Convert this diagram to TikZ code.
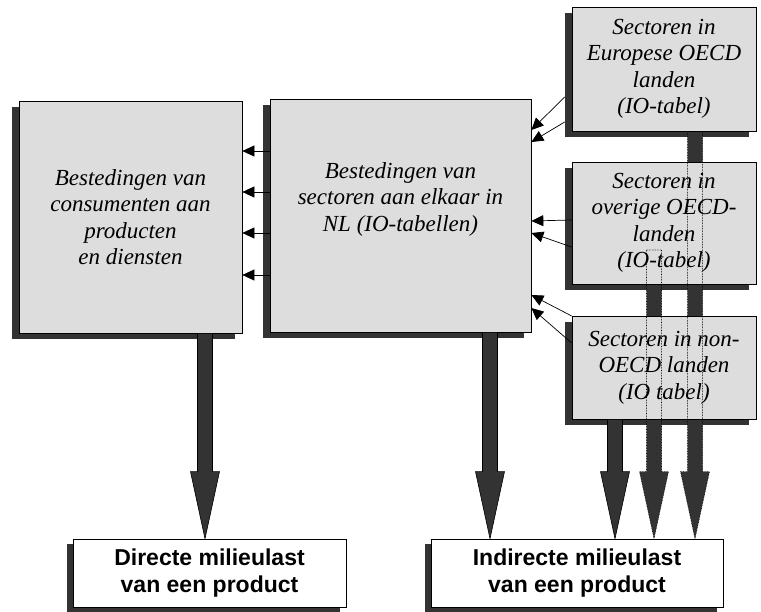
\documentclass[tikz,border=0pt]{standalone}
\usepackage{fontspec}
\setmainfont{Liberation Serif}
\setsansfont{Liberation Sans}
\usetikzlibrary{arrows.meta,shadows,calc}

\definecolor{boxgray}{HTML}{DDDDDD}
\definecolor{arrowgray}{HTML}{333333}

% thick block arrow: \bigarrow[style]{(start)}{(tip)}
\newcommand{\bigarrow}[3][]{%
  \path[#1] let \p1=#2, \p2=#3 in
    (\x1-7.5pt,\y1) -- (\x1-7.5pt,\y2+67pt) -- (\x1-14.5pt,\y2+67pt) -- (\x1,\y2)
    -- (\x1+14.5pt,\y2+67pt) -- (\x1+7.5pt,\y2+67pt) -- (\x1+7.5pt,\y1) -- cycle;}

\begin{document}
\begin{tikzpicture}[
x=1pt, y=-1pt,
box/.style={draw=black, line width=0.7pt, fill=boxgray, inner sep=0pt, align=center,
  font=\itshape\fontsize{23}{26.5}\selectfont,
  drop shadow={shadow xshift=-7pt, shadow yshift=-6pt, fill=arrowgray, opacity=1}},
result/.style={draw=black, line width=0.7pt, fill=white, inner sep=0pt, align=center,
  font=\sffamily\bfseries\fontsize{23}{27}\selectfont,
  drop shadow={shadow xshift=-6pt, shadow yshift=-5pt, fill=arrowgray, opacity=1}},
feed/.style={-{Triangle[length=12pt,width=11pt]}, line width=0.7pt},
bigarr/.style={fill=arrowgray, draw=black, line width=0.6pt},
hidden/.style={draw=black, densely dotted, line width=0.6pt}
]
    \useasboundingbox (0,0) rectangle (761,612);

    % Result boxes
    \node[result, minimum width=273pt, minimum height=68pt] (direct) at (209.5,573)
        {Directe milieulast\\van een product};
    \node[result, minimum width=292pt, minimum height=68pt] (indirect) at (577,573)
        {Indirecte milieulast\\van een product};

    % Expenditure boxes
    \node[box, minimum width=223pt, minimum height=232pt] (cons) at (130.5,217)
        {Bestedingen van\\consumenten aan\\producten\\en diensten};
    \node[box, minimum width=261pt, minimum height=233pt] (sect) at (400.5,215.5) {};
    \node[align=center, inner sep=0pt, font=\itshape\fontsize{23}{26.5}\selectfont]
        (secttext) at ([yshift=16.5pt]sect.center)
        {Bestedingen van\\sectoren aan elkaar in\\NL (IO-tabellen)};

    % Foreign sectors
    \coordinate (ovrtop) at (654,250);
    \bigarrow[fill=arrowgray]{(ovrtop)}{(654,0 |- indirect.north)}
    \bigarrow[fill=arrowgray]{(695,131)}{(695,0 |- indirect.north)}

    \node[box, minimum width=184pt, minimum height=124pt] (eur) at (664,69)
        {Sectoren in\\Europese OECD\\landen\\(IO-tabel)};
    \node[box, minimum width=184pt, minimum height=122pt] (ovr) at (664,223)
        {Sectoren in\\overige OECD-\\landen\\(IO-tabel)};
    \node[box, minimum width=184pt, minimum height=103pt] (non) at (664,367.5)
        {Sectoren in non-\\OECD landen\\(IO tabel)};

    % Block arrows
    \bigarrow[bigarr]{(205,0 |- cons.south)}{(205,0 |- direct.north)}
    \bigarrow[bigarr]{(490,0 |- sect.south)}{(490,0 |- indirect.north)}
    \bigarrow[bigarr]{(615,0 |- non.south)}{(615,0 |- indirect.north)}

    % Hidden parts of the long arrows
    \bigarrow[hidden]{(ovrtop)}{(654,0 |- indirect.north)}
    \bigarrow[hidden]{(695,0 |- eur.south)}{(695,0 |- indirect.north)}

    % Deliveries between boxes
    \foreach \yy in {151,192,233,275}
        \draw[feed] (sect.west |- 0,\yy) -- (cons.east |- 0,\yy);

    \draw[feed] ([xshift=-7pt]eur.west |- 0,97) -- (sect.east |- 0,130);
    \draw[feed] ([xshift=-7pt]eur.west |- 0,122) -- (sect.east |- 0,142);
    \draw[feed] (ovr.west |- 0,220) -- (sect.east |- 0,221);
    \draw[feed] (ovr.west |- 0,247) -- (sect.east |- 0,233);
    \draw[feed] (non.west |- 0,316) -- (sect.east |- 0,295);
    \draw[feed] (non.west |- 0,343) -- (sect.east |- 0,308);

\end{tikzpicture}
\end{document}
